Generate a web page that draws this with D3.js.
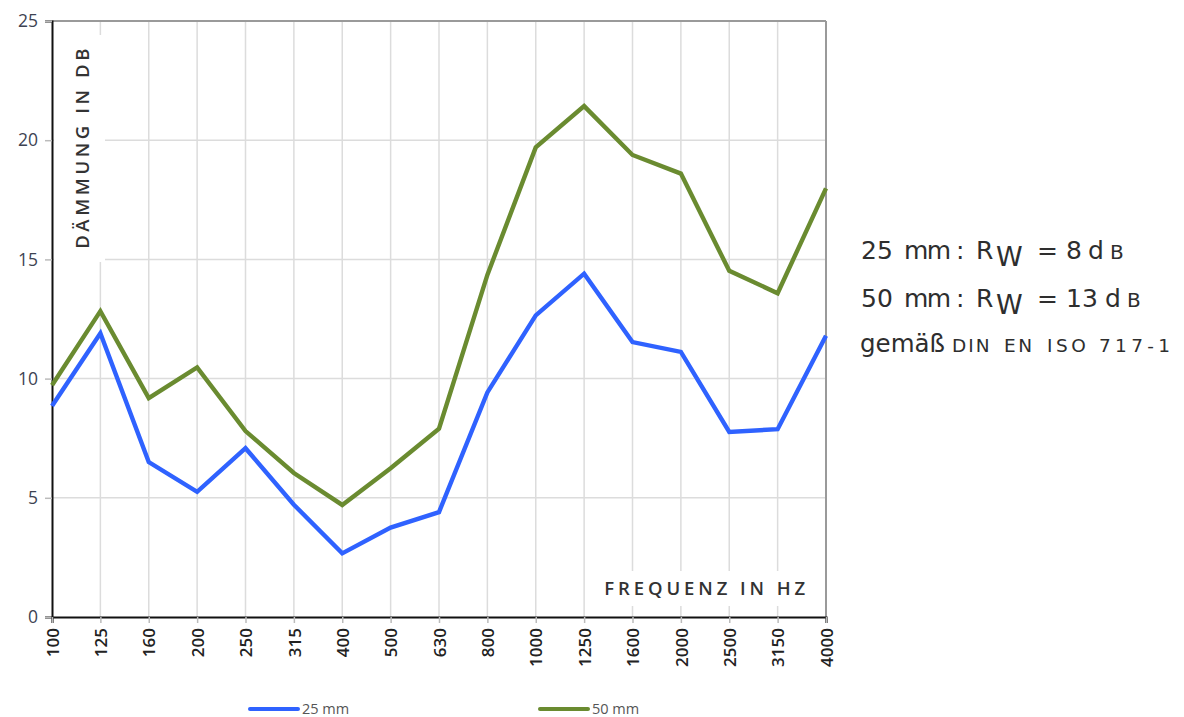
<!DOCTYPE html>
<html><head><meta charset="utf-8">
<script src="https://cdn.jsdelivr.net/npm/d3@7"></script>
<style>
body{margin:0;background:#fff;}
svg{display:block;}
</style></head>
<body><svg id="chart" width="1184" height="717"></svg>
<script>
const frequencies = ["100","125","160","200","250","315","400","500","630","800","1000","1250","1600","2000","2500","3150","4000"];
const series25 = [8.85,11.9,6.5,5.25,7.08,4.71,2.67,3.75,4.4,9.42,12.65,14.4,11.53,11.12,7.76,7.88,11.8];
const series50 = [9.72,12.83,9.18,10.47,7.8,6.04,4.7,6.24,7.9,14.35,19.7,21.43,19.38,18.6,14.52,13.58,17.98];
const yTicks = [0,5,10,15,20,25];
const seriesNames = ["25 mm","50 mm"];
const seriesColors = ["#2f62ff","#6a8b30"];

const svg = d3.select("#chart");
const m = {left:52, right:1184-826, top:21, bottom:717-617};
const W = 1184, H = 717;
const x = d3.scalePoint().domain(frequencies).range([m.left, W - m.right]);
const y = d3.scaleLinear().domain([0,25]).range([H - m.bottom, m.top]);

// grid
const g = svg.append("g");
g.selectAll(".vg").data(frequencies.slice(1)).join("line")
  .attr("x1", d=>x(d)).attr("x2", d=>x(d)).attr("y1", y(25)).attr("y2", y(0))
  .attr("stroke","#dcdcdc").attr("stroke-width",1.5);
g.selectAll(".hg").data(yTicks.slice(1,-1)).join("line")
  .attr("x1", x("100")).attr("x2", x("4000")).attr("y1", d=>y(d)).attr("y2", d=>y(d))
  .attr("stroke","#dcdcdc").attr("stroke-width",1.5);

// label masks
svg.append("rect").attr("x", x("100")+2).attr("y", 35).attr("width", 51).attr("height", 227).attr("fill","#fff");
svg.append("rect").attr("x", 586).attr("y", 571).attr("width", x("4000")-586).attr("height", 35).attr("fill","#fff");

// frame top/right
svg.append("line").attr("x1", x("100")).attr("x2", x("4000")).attr("y1", y(25)).attr("y2", y(25)).attr("stroke","#9a9a9a").attr("stroke-width",2);
svg.append("line").attr("x1", x("4000")).attr("x2", x("4000")).attr("y1", y(25)).attr("y2", y(0)).attr("stroke","#9a9a9a").attr("stroke-width",2);

// y axis
const ya = svg.append("g").attr("transform",`translate(${x("100")},0)`)
  .call(d3.axisLeft(y).tickValues(yTicks).tickSize(7).tickPadding(7));
ya.select(".domain").attr("stroke","#111").attr("stroke-width",2);
ya.selectAll(".tick line").attr("stroke","#bbb").attr("stroke-width",1.5);
ya.selectAll(".tick text").attr("font-family","'Open Sans', sans-serif").attr("font-size",17.5).attr("fill","#3d4352");

// x axis
const xa = svg.append("g").attr("transform",`translate(0,${y(0)})`)
  .call(d3.axisBottom(x).tickSize(6).tickPadding(4));
xa.select(".domain").attr("stroke","#111").attr("stroke-width",2.2);
xa.selectAll(".tick line").attr("stroke","#bbb").attr("stroke-width",1.5);
xa.selectAll(".tick text")
  .attr("font-family","'Open Sans', sans-serif").attr("font-size",17).attr("font-weight",600).attr("fill","#222")
  .attr("text-anchor","end").attr("dy","0.36em")
  .attr("transform","translate(0,11) rotate(-90)").attr("x",0).attr("y",0);

// lines
const line = d3.line().x((d,i)=>x(frequencies[i])).y(d=>y(d));
[series25, series50].forEach((s,i)=>{
  svg.append("path").datum(s).attr("d", line).attr("fill","none")
    .attr("stroke", seriesColors[i]).attr("stroke-width",4.4).attr("stroke-linejoin","miter");
});

// axis titles
svg.append("text").attr("transform","translate(89,45) rotate(-90)")
  .attr("text-anchor","end").attr("font-family","'Open Sans', sans-serif").attr("font-size",18.5).attr("font-weight",600)
  .attr("letter-spacing","3.6px").attr("fill","#333").text("DÄMMUNG IN DB");
svg.append("text").attr("x",809).attr("y",595)
  .attr("text-anchor","end").attr("font-family","'Open Sans', sans-serif").attr("font-size",18.5).attr("font-weight",600)
  .attr("letter-spacing","3.9px").attr("fill","#333").text("FREQUENZ IN HZ");

// legend
const leg = svg.append("g");
const legX = [250, 540];
seriesNames.forEach((n,i)=>{
  leg.append("line").attr("x1",legX[i]).attr("x2",legX[i]+48).attr("y1",709).attr("y2",709)
    .attr("stroke",seriesColors[i]).attr("stroke-width",4).attr("stroke-linecap","round");
  leg.append("text").attr("x",legX[i]+52).attr("y",714).attr("font-family","'Open Sans', sans-serif")
    .attr("font-size",14.5).attr("fill","#555").text(n);
});

// right annotation
const ann = svg.append("g").attr("font-family","'DejaVu Sans', sans-serif").attr("fill","#2e2e2e");
function rwLine(yy, mm, val, shift){
  const t = ann.append("text").attr("y",yy).attr("font-size",25);
  t.append("tspan").attr("x",861).text(mm);
  t.append("tspan").attr("x",904).attr("letter-spacing","-1.5px").text("mm");
  t.append("tspan").attr("x",956).text(":");
  t.append("tspan").attr("x",976).text("R");
  t.append("tspan").attr("x",996).attr("dy",7).attr("font-size",27).text("W");
  t.append("tspan").attr("x",1037).attr("dy",-7).text("=");
  t.append("tspan").attr("x",1066).text(val);
  t.append("tspan").attr("x",1088+shift).text("d");
  t.append("tspan").attr("x",1110+shift).attr("font-size",20).text("B");
}
rwLine(259, "25", "8", 0);
rwLine(307, "50", "13", 17);
const t3 = ann.append("text").attr("y",352).attr("font-size",24.5);
t3.append("tspan").attr("x",860).text("gemäß");
const sc = [["DIN",952,"2px"],["EN",1004,"2.5px"],["ISO",1047,"3.5px"],["717-1",1099,"4.3px"]];
sc.forEach(([w,px,ls])=>{
  t3.append("tspan").attr("x",px).attr("font-size",18.5).attr("letter-spacing", ls).text(w);
});
</script></body></html>
